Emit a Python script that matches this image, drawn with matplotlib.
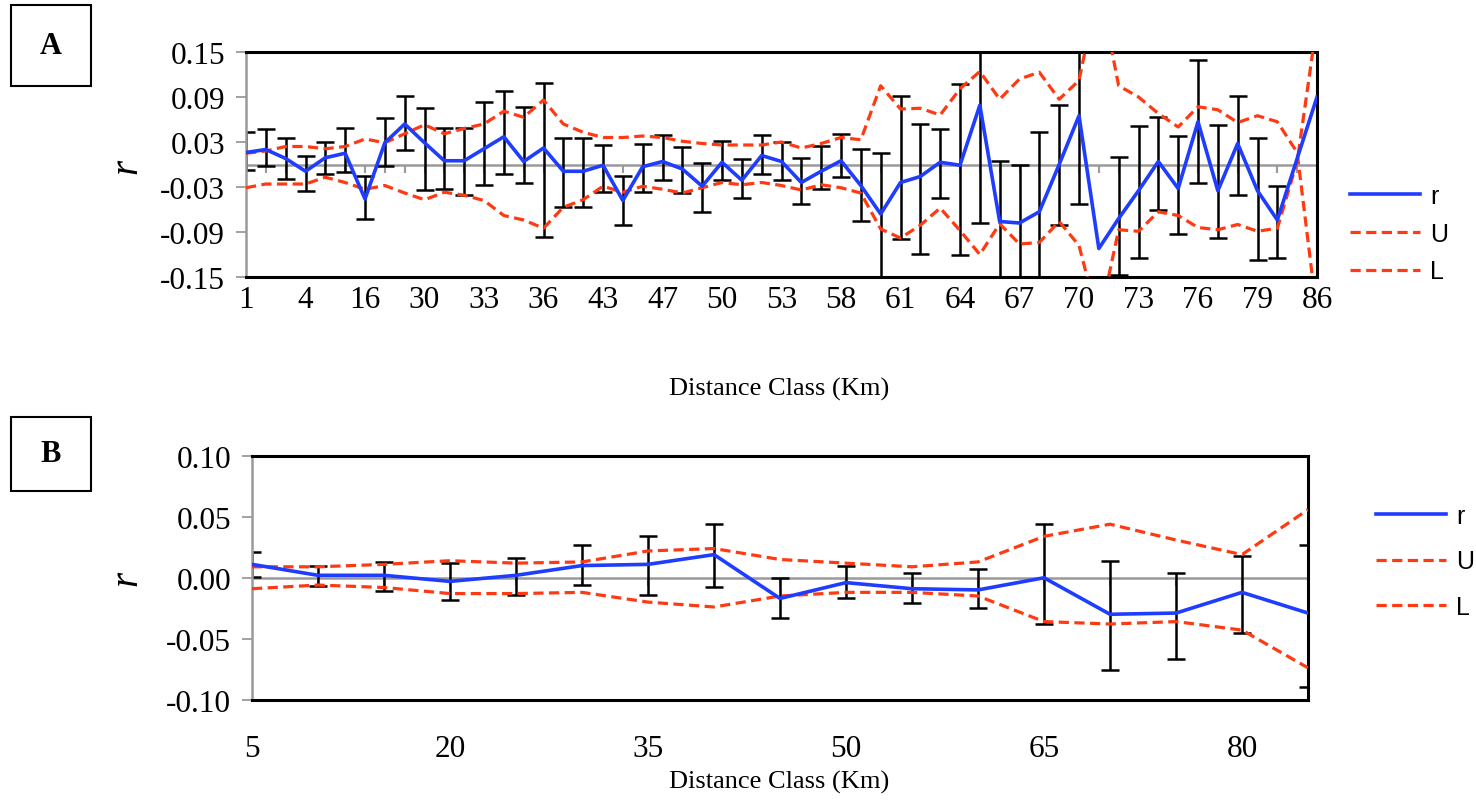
import numpy as np
import matplotlib
matplotlib.use("Agg")
import matplotlib.pyplot as plt
from matplotlib.patches import Rectangle

plt.rcParams['font.family'] = ['Liberation Serif', 'DejaVu Serif']

# ---- panel A: 55 distance classes, only every 3rd labelled ----
labels_a = ["1", "4", "16", "30", "33", "36", "43", "47", "50", "53",
            "58", "61", "64", "67", "70", "73", "76", "79", "86"]
r_a = [0.016, 0.020, 0.008, -0.009, 0.009, 0.015, -0.046, 0.029, 0.054, 0.029,
       0.005, 0.005, 0.021, 0.037, 0.004, 0.022, -0.009, -0.009, -0.001, -0.048,
       -0.003, 0.004, -0.006, -0.029, 0.003, -0.021, 0.012, 0.004, -0.024, -0.009,
       0.005, -0.028, -0.066, -0.024, -0.016, 0.003, -0.001, 0.079, -0.076, -0.078,
       -0.063, 0.000, 0.065, -0.112, -0.072, -0.035, 0.004, -0.032, 0.057, -0.035,
       0.028, -0.035, -0.074, 0.008, 0.090]
hi_a = [0.044, 0.047, 0.036, 0.012, 0.030, 0.049, -0.015, 0.062, 0.092, 0.075,
        0.049, 0.049, 0.084, 0.098, 0.077, 0.109, 0.036, 0.036, 0.026, -0.015,
        0.027, 0.040, 0.024, 0.002, 0.031, 0.007, 0.040, 0.030, 0.009, 0.025,
        0.041, 0.021, 0.016, 0.092, 0.054, 0.048, 0.108, 0.200, 0.005, 0.000,
        0.044, 0.079, 0.200, np.nan, 0.010, 0.051, 0.064, 0.038, 0.139, 0.053,
        0.091, 0.036, -0.029, np.nan, np.nan]
lo_a = [-0.007, -0.002, -0.019, -0.035, -0.012, -0.010, -0.072, -0.002, 0.019, -0.034,
        -0.033, -0.040, -0.027, -0.013, -0.024, -0.097, -0.057, -0.056, -0.037, -0.080,
        -0.036, -0.021, -0.038, -0.063, -0.020, -0.044, -0.012, -0.020, -0.052, -0.032,
        -0.016, -0.075, -0.165, -0.099, -0.119, -0.044, -0.120, -0.078, -0.170, -0.170,
        -0.170, -0.081, -0.053, np.nan, -0.147, -0.124, -0.060, -0.093, -0.024, -0.098,
        -0.040, -0.127, -0.124, np.nan, np.nan]
U_a = [0.015, 0.018, 0.024, 0.024, 0.021, 0.024, 0.034, 0.029, 0.041, 0.053,
       0.041, 0.048, 0.054, 0.071, 0.063, 0.086, 0.054, 0.043, 0.036, 0.036,
       0.038, 0.036, 0.031, 0.028, 0.026, 0.026, 0.026, 0.030, 0.022, 0.028,
       0.036, 0.033, 0.105, 0.074, 0.075, 0.066, 0.101, 0.124, 0.087, 0.114,
       0.123, 0.087, 0.112, 0.240, 0.105, 0.090, 0.068, 0.050, 0.077, 0.073,
       0.056, 0.065, 0.057, 0.016, -0.200]
L_a = [-0.031, -0.026, -0.026, -0.026, -0.017, -0.024, -0.033, -0.028, -0.038, -0.047,
       -0.037, -0.041, -0.048, -0.068, -0.074, -0.085, -0.057, -0.047, -0.029, -0.037,
       -0.029, -0.033, -0.038, -0.031, -0.024, -0.027, -0.024, -0.028, -0.034, -0.027,
       -0.031, -0.038, -0.086, -0.098, -0.081, -0.058, -0.088, -0.120, -0.079, -0.106,
       -0.104, -0.076, -0.108, -0.210, -0.087, -0.089, -0.063, -0.068, -0.084, -0.087,
       -0.080, -0.089, -0.085, 0.004, 0.190]

# ---- panel B: 17 distance classes ----
dist_b = [5, 10, 15, 20, 25, 30, 35, 40, 45, 50, 55, 60, 65, 70, 75, 80, 85]
r_b = [0.011, 0.002, 0.002, -0.003, 0.002, 0.010, 0.011, 0.019, -0.017, -0.004,
       -0.009, -0.010, 0.000, -0.030, -0.029, -0.012, -0.029]
hi_b = [0.021, 0.010, 0.013, 0.012, 0.016, 0.027, 0.034, 0.044, 0.000, 0.010,
        0.004, 0.007, 0.044, 0.014, 0.004, 0.018, 0.027]
lo_b = [0.0005, -0.007, -0.011, -0.018, -0.014, -0.006, -0.014, -0.008, -0.033, -0.017,
        -0.021, -0.025, -0.038, -0.076, -0.067, -0.045, -0.090]
U_b = [0.009, 0.009, 0.011, 0.014, 0.012, 0.013, 0.022, 0.024, 0.015, 0.012,
       0.009, 0.013, 0.034, 0.044, 0.031, 0.019, 0.056]
L_b = [-0.009, -0.006, -0.008, -0.013, -0.013, -0.012, -0.020, -0.024, -0.015, -0.012,
       -0.012, -0.015, -0.036, -0.038, -0.036, -0.043, -0.074]

BLUE = "#1f3dff"
RED = "#ff3a12"
GRAY = "#9a9a9a"

W, H = 1476, 803
fig = plt.figure(figsize=(W / 100, H / 100), dpi=100)


def panel(rect, r, hi, lo, U, L, ticklabels, yticks, pad):
    ax = fig.add_axes(rect)
    r = np.array(r, dtype=float)
    hi = np.array(hi, dtype=float)
    lo = np.array(lo, dtype=float)
    x = np.arange(len(r))
    ax.axhline(0, color=GRAY, lw=1.8, zorder=1)
    ax.plot(x, np.zeros(len(x)), ls='none', marker=3, ms=6, mew=1.5, color=GRAY, zorder=1)
    ax.errorbar(x, r, yerr=[r - lo, hi - r], fmt='none', ecolor='black',
                elinewidth=1.8, capsize=6.5, capthick=1.8, zorder=2)
    lu, = ax.plot(x, U, color=RED, lw=2.3, dashes=(3.2, 1.7), zorder=3)
    ll, = ax.plot(x, L, color=RED, lw=2.3, dashes=(3.2, 1.7), zorder=3)
    lr, = ax.plot(x, r, color=BLUE, lw=2.6, zorder=4)
    ax.set_xlim(0, len(r) - 1)
    ax.set_ylim(yticks[0], yticks[-1])
    ax.set_yticks(yticks)
    ax.set_yticklabels(["%.2f" % v for v in yticks])
    ax.set_xticks(x[::3])
    ax.set_xticklabels(ticklabels)
    ax.tick_params(axis='y', direction='out', length=7, width=1.3, color=GRAY,
                   labelsize=22.5, pad=8)
    ax.tick_params(axis='x', length=0, labelsize=22.5, pad=pad)
    for s in ['top', 'right', 'bottom']:
        ax.spines[s].set_color('black')
        ax.spines[s].set_linewidth(2.2)
    ax.spines['left'].set_color(GRAY)
    ax.spines['left'].set_linewidth(1.8)
    return ax, lr, lu, ll


def px(x0, y0, x1, y1):
    return [x0 / W, 1 - y1 / H, (x1 - x0) / W, (y1 - y0) / H]


legend_font = {'family': ['Liberation Sans', 'DejaVu Sans'], 'size': 18}

axA, lr, lu, ll = panel(px(246, 53, 1317, 278), r_a, hi_a, lo_a, U_a, L_a,
                        labels_a, [-0.15, -0.09, -0.03, 0.03, 0.09, 0.15], 6)
fig.legend([lr, lu, ll], ["r", "U", "L"], loc='center left',
           bbox_to_anchor=(1350 / W, 1 - 234.5 / H), frameon=False,
           prop=legend_font, handlelength=2.8, handletextpad=0.4,
           labelspacing=0.55, borderpad=0, borderaxespad=0)

axB, lr, lu, ll = panel(px(252, 457, 1308, 700.5), r_b, hi_b, lo_b, U_b, L_b,
                        [str(d) for d in dist_b[::3]], [-0.10, -0.05, 0.00, 0.05, 0.10], 25)
fig.legend([lr, lu, ll], ["r", "U", "L"], loc='center left',
           bbox_to_anchor=(1376 / W, 1 - 562.3 / H), frameon=False,
           prop=legend_font, handlelength=2.8, handletextpad=0.4,
           labelspacing=0.85, borderpad=0, borderaxespad=0)

# axis titles
fig.text(779 / W, 1 - 389 / H, "Distance Class (Km)", ha='center', va='center', fontsize=19)
fig.text(779 / W, 1 - 782 / H, "Distance Class (Km)", ha='center', va='center', fontsize=19)
fig.text(127 / W, 1 - 166 / H, "r", ha='center', va='center', fontsize=28,
         style='italic', rotation=90)
fig.text(127 / W, 1 - 578 / H, "r", ha='center', va='center', fontsize=28,
         style='italic', rotation=90)

# boxed panel letters
for letter, (x0, y0, x1, y1) in [("A", (11, 6, 91, 87)), ("B", (11, 418, 91, 492))]:
    fig.add_artist(Rectangle((x0 / W, 1 - y1 / H), (x1 - x0) / W, (y1 - y0) / H,
                             transform=fig.transFigure, fill=False, lw=1.5,
                             edgecolor='black'))
    fig.text((x0 + x1) / 2 / W, 1 - (y0 + y1) / 2 / H, letter, ha='center',
             va='center', fontsize=22, fontweight='bold')

fig.savefig("out.png", dpi=100)
